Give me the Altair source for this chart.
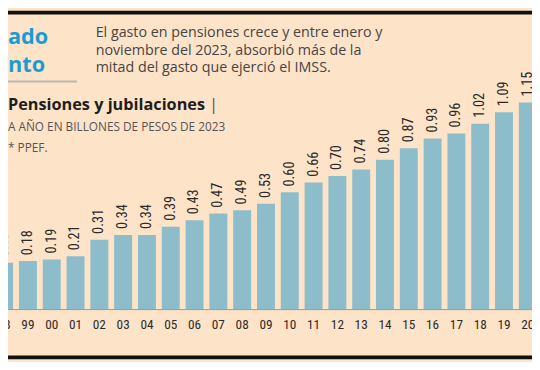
import altair as alt
import pandas as pd

# ---- data ----
years = ["98", "99", "00", "01", "02", "03", "04", "05", "06", "07", "08", "09",
         "10", "11", "12", "13", "14", "15", "16", "17", "18", "19", "20"]
values = [0.17, 0.18, 0.19, 0.21, 0.31, 0.34, 0.34, 0.39, 0.43, 0.47, 0.49, 0.53,
          0.60, 0.66, 0.70, 0.74, 0.80, 0.87, 0.93, 0.96, 1.02, 1.09, 1.15]
labels = ["%.2f" % v for v in values]

head_blue = ["ado", "nto"]
desc_lines = ["El gasto en pensiones crece y entre enero y",
              "noviembre del 2023, absorbió más de la",
              "mitad del gasto que ejerció el IMSS."]
title_text = "Pensiones y jubilaciones"
subtitle_text = "A AÑO EN BILLONES DE PESOS DE 2023"
note_text = "* PPEF."

W, H = 532, 354
BG = "#FDE3C8"
BAR = "#8DBDCA"
NARROW = "Roboto Condensed, Roboto, sans-serif"
BODY = "Open Sans, Lato, sans-serif"
BASE = -0.114

df = pd.DataFrame({"i": list(range(len(years))), "year": years,
                   "value": values, "label": labels,
                   "base": [BASE] * len(years)})
one = pd.DataFrame({"k": [0]})

xs = alt.X("i:Q", scale=alt.Scale(domain=[0.3695, 21.969], nice=False, zero=False), axis=None)
ys = alt.Scale(domain=[-0.421, 1.711], nice=False, zero=False)

bars = alt.Chart(df).mark_bar(width=18.2, color=BAR, clip=True).encode(
    x=xs,
    y=alt.Y("value:Q", scale=ys, axis=None),
    y2=alt.Y2("base:Q"),
)

base_rule = alt.Chart(one).mark_rule(color="#9a9a90", strokeWidth=1).encode(
    x=alt.value(0), x2=alt.value(W), y=alt.value(303.5))

bar_labels = alt.Chart(df).mark_text(
    angle=270, align="left", baseline="middle", dx=6, font=NARROW,
    fontSize=14.5, color="#2b2b2b").encode(
    x=xs, y=alt.Y("value:Q", scale=ys, axis=None), text="label:N")

year_labels = alt.Chart(df).mark_text(
    align="center", baseline="alphabetic", font=NARROW, fontSize=13.5,
    color="#2b2b2b").encode(x=xs, y=alt.value(323), text="year:N")

top_line = alt.Chart(one).mark_rect(color="#111111").encode(
    x=alt.value(0), x2=alt.value(W), y=alt.value(0), y2=alt.value(4))
bottom_line = alt.Chart(one).mark_rect(color="#111111").encode(
    x=alt.value(0), x2=alt.value(W), y=alt.value(350), y2=alt.value(354))

blue1 = alt.Chart(one).mark_text(
    text=head_blue[0], align="left", baseline="alphabetic", font=BODY,
    fontWeight="bold", fontSize=22, color="#1A9BD2").encode(
    x=alt.value(0), y=alt.value(34))
blue2 = alt.Chart(one).mark_text(
    text=head_blue[1], align="left", baseline="alphabetic", font=BODY,
    fontWeight="bold", fontSize=22, color="#1A9BD2").encode(
    x=alt.value(0), y=alt.value(62))

gray_rule = alt.Chart(one).mark_rule(color="#b9b9b0", strokeWidth=2).encode(
    x=alt.value(0), x2=alt.value(70), y=alt.value(72))

desc = [alt.Chart(one).mark_text(
    text=t, align="left", baseline="alphabetic", font=BODY, fontSize=14.5,
    color="#454545").encode(x=alt.value(89), y=alt.value(27 + 17.6 * k))
    for k, t in enumerate(desc_lines)]

title = alt.Chart(one).mark_text(
    text=title_text, align="left", baseline="alphabetic", font=BODY,
    fontWeight="bold", fontSize=16.5, color="#1e1e1e").encode(
    x=alt.value(0), y=alt.value(101))
bar_sep = alt.Chart(one).mark_text(
    text="|", align="left", baseline="alphabetic", font=BODY,
    fontSize=17, color="#555555").encode(x=alt.value(204), y=alt.value(101))
subtitle = alt.Chart(one).mark_text(
    text=subtitle_text, align="left", baseline="alphabetic", font=BODY,
    fontSize=12, color="#555555").encode(x=alt.value(0), y=alt.value(122))
note = alt.Chart(one).mark_text(
    text=note_text, align="left", baseline="alphabetic", font=BODY,
    fontSize=12, color="#555555").encode(x=alt.value(0), y=alt.value(143))

chart = alt.layer(
    top_line, bottom_line, blue1, blue2, gray_rule, *desc, title, bar_sep,
    subtitle, note, bars, base_rule, bar_labels, year_labels
).properties(
    width=W, height=H, padding=0,
    autosize=alt.AutoSizeParams(type="none"),
).configure(background=BG).configure_view(strokeWidth=0)

chart.save("out.html", embed_options={"renderer": "svg", "actions": False})
